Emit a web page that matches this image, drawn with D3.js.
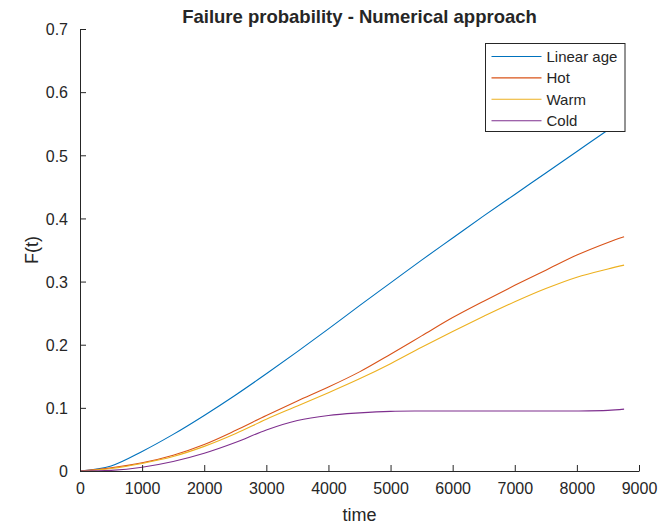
<!DOCTYPE html>
<html>
<head>
<meta charset="utf-8">
<script src="https://cdn.jsdelivr.net/npm/d3@7"></script>
<style>
  body { margin: 0; background: #fff; }
  text { font-family: "Liberation Sans", Arial, sans-serif; fill: #262626; }
</style>
</head>
<body>
<svg id="chart" width="667" height="525"></svg>
<script>
// time points (hours)
var times = [0, 500, 1000, 1500, 2000, 2500, 3000, 3500, 4000, 4500, 5000, 5500, 6000, 6500, 7000, 7500, 8000, 8500, 8760];

// failure probability per scenario
var linearAge = [0, 0.008, 0.031, 0.058, 0.088, 0.120, 0.154, 0.189, 0.225, 0.262, 0.298, 0.334, 0.369, 0.404, 0.438, 0.472, 0.506, 0.540, 0.557];
var hot  = [0, 0.005, 0.013, 0.025, 0.042, 0.064, 0.088, 0.111, 0.133, 0.157, 0.185, 0.214, 0.243, 0.269, 0.294, 0.318, 0.342, 0.362, 0.371];
var warm = [0, 0.004, 0.012, 0.023, 0.039, 0.059, 0.082, 0.103, 0.124, 0.146, 0.170, 0.196, 0.221, 0.245, 0.268, 0.289, 0.307, 0.320, 0.326];
var cold = [0, 0.001, 0.006, 0.015, 0.028, 0.045, 0.065, 0.080, 0.088, 0.092, 0.0945, 0.095, 0.095, 0.095, 0.095, 0.095, 0.095, 0.096, 0.098];

var seriesNames = ["Linear age", "Hot", "Warm", "Cold"];
var seriesColors = ["#0072BD", "#D95319", "#EDB120", "#7E2F8E"];
var xTicks = [0, 1000, 2000, 3000, 4000, 5000, 6000, 7000, 8000, 9000];
var yTicks = [0, 0.1, 0.2, 0.3, 0.4, 0.5, 0.6, 0.7];

var margin = {top: 29, right: 28, bottom: 54, left: 80},
    width = 667 - margin.left - margin.right,
    height = 525 - margin.top - margin.bottom;

var svg = d3.select("#chart");
var g = svg.append("g").attr("transform", "translate(" + margin.left + "," + margin.top + ")");

var x = d3.scaleLinear().domain([0, 9000]).range([0, width]);
var y = d3.scaleLinear().domain([0, 0.7]).range([height, 0]);

// lines
var allSeries = [linearAge, hot, warm, cold];
var line = d3.line()
  .x(function(d, i) { return x(times[i]); })
  .y(function(d) { return y(d); })
  .curve(d3.curveCatmullRom.alpha(0.5));

allSeries.forEach(function(s, k) {
  g.append("path")
    .datum(s)
    .attr("fill", "none")
    .attr("stroke", seriesColors[k])
    .attr("stroke-width", 1.1)
    .attr("d", line);
});

// axes (ticks inward, MATLAB style)
var xAxis = g.append("g")
  .attr("transform", "translate(0," + height + ")")
  .call(d3.axisBottom(x).tickValues(xTicks).tickSizeInner(-6).tickSizeOuter(0).tickPadding(12).tickFormat(d3.format("d")));
var yAxis = g.append("g")
  .call(d3.axisLeft(y).tickValues(yTicks).tickSizeInner(-6).tickSizeOuter(0).tickPadding(12)
    .tickFormat(function(d) { return d === 0 ? "0" : d3.format(".1f")(d); }));

[xAxis, yAxis].forEach(function(a) {
  a.select(".domain").attr("stroke", "#262626");
  a.selectAll(".tick line").attr("stroke", "#262626");
  a.selectAll(".tick text")
    .style("font-family", "'Liberation Sans', Arial, sans-serif")
    .style("font-size", "16px")
    .attr("fill", "#262626");
});
yAxis.selectAll(".tick text").attr("dy", "0.36em");

// title and labels
svg.append("text")
  .attr("x", margin.left + width / 2)
  .attr("y", 23)
  .attr("text-anchor", "middle")
  .style("font-size", "18.5px")
  .style("font-weight", "bold")
  .text("Failure probability - Numerical approach");

svg.append("text")
  .attr("x", margin.left + width / 2)
  .attr("y", 521)
  .attr("text-anchor", "middle")
  .style("font-size", "18px")
  .text("time");

svg.append("text")
  .attr("transform", "translate(38," + (margin.top + height / 2) + ") rotate(-90)")
  .attr("text-anchor", "middle")
  .style("font-size", "18px")
  .text("F(t)");

// legend
var legend = svg.append("g").attr("transform", "translate(485.5,43.5)");
legend.append("rect")
  .attr("width", 139.5)
  .attr("height", 88)
  .attr("fill", "#fff")
  .attr("stroke", "#262626")
  .attr("stroke-width", 1);

seriesNames.forEach(function(name, k) {
  var row = legend.append("g").attr("transform", "translate(0," + (13 + k * 21.4) + ")");
  row.append("line")
    .attr("x1", 6).attr("x2", 56)
    .attr("stroke", seriesColors[k])
    .attr("stroke-width", 1.1);
  row.append("text")
    .attr("x", 61)
    .attr("dy", "0.36em")
    .style("font-size", "15px")
    .text(name);
});
</script>
</body>
</html>
